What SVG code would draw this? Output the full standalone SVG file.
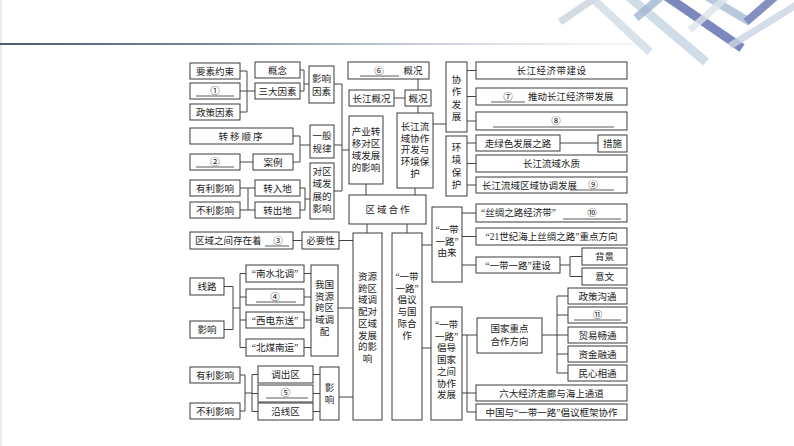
<svg xmlns="http://www.w3.org/2000/svg" width="794" height="446" viewBox="0 0 794 446">
<defs>
<linearGradient id="hl" x1="0" y1="0" x2="1" y2="0">
<stop offset="0" stop-color="#4a5a7a"/>
<stop offset="0.35" stop-color="#7f8ba3"/>
<stop offset="1" stop-color="#e6e9ee" stop-opacity="0.3"/>
</linearGradient>
<style>
.b{fill:#fff;stroke:#3a3a3a;stroke-width:1}
.c{fill:none;stroke:#444;stroke-width:1}
.u{stroke:#333;stroke-width:0.8}
text{font-family:"Liberation Serif","Noto Sans CJK SC",serif;font-size:9.5px;fill:#222;text-anchor:middle}
.l{text-anchor:start}
</style>
</defs>
<rect width="794" height="446" fill="#fff"/>
<g id="header">
<line x1="1" y1="0" x2="1" y2="446" stroke="#d8d8d8" stroke-width="1"/>
<rect x="0" y="43" width="650" height="2" fill="url(#hl)"/>
<g stroke-linecap="butt" fill="none">
<line x1="560" y1="22" x2="598" y2="-4" stroke="#d5dbe3" stroke-width="7"/>
<line x1="590" y1="-4" x2="650" y2="52" stroke="#cfd9e6" stroke-width="8" opacity="0.8"/>
<line x1="628" y1="-4" x2="706" y2="62" stroke="#c5d3e3" stroke-width="9" opacity="0.8"/>
<line x1="636" y1="18" x2="662" y2="-4" stroke="#9fb6cf" stroke-width="8" opacity="0.8"/>
<line x1="666" y1="-4" x2="742" y2="48" stroke="#7b87bd" stroke-width="9"/>
<line x1="706" y1="-4" x2="750" y2="22" stroke="#a7bcd5" stroke-width="8" opacity="0.8"/>
<line x1="746" y1="22" x2="776" y2="-4" stroke="#8490c2" stroke-width="8"/>
<line x1="730" y1="46" x2="798" y2="4" stroke="#c9d5e4" stroke-width="7" opacity="0.8"/>
<line x1="690" y1="30" x2="728" y2="-4" stroke="#dde4ec" stroke-width="7" opacity="0.8"/>
</g>
</g>
<g id="connectors" class="c">
<path d="M240 71H247M240 91H255M240 112H247M247 71V112"/>
<path d="M300 70H304M300 91H304M304 70V91M304 84H309"/>
<path d="M293 136H300M293 162H300M300 136V162M300 145H310"/>
<path d="M240 162H253"/>
<path d="M240 188H255M240 210H255M248 188V210"/>
<path d="M300 188H305M300 210H305M305 188V210M305 199H310"/>
<path d="M334 84H342M334 145H342M334 191H342M342 84V191M342 150H349"/>
<path d="M418 79V90M418 106V113M394 98H405"/>
<path d="M433 124H446"/>
<path d="M467 70.5H476M467 96.5H476M467 121H476M467 143H476M467 163.5H476M467 185H476M560 143H598"/>
<path d="M366 184V195M415 188V195M367 224V233M407 224V233"/>
<path d="M422 245H432M422 348H431"/>
<path d="M462 213H476M462 236.5H476M462 265H476M560 265H570M570 256.5V276.5M570 256.5H582M570 276.5H582"/>
<path d="M462 335H477M542 335H557M557 296V373M557 296H568M557 315H568M557 335H568M557 354H568M557 373H568"/>
<path d="M462 393H467M467 335V412M467 393H476M467 412H476"/>
<path d="M293 240.5H302M339 240.5H353"/>
<path d="M224 286.5H233M224 329.5H233M233 286.5V329.5M233 308H240M240 273.5V347.5M240 273.5H246M240 297H246M240 320H246M240 347.5H246"/>
<path d="M304 273.5H311M304 297H311M304 320H311M304 347.5H311M338 308H353"/>
<path d="M240 375H245M240 411H245M245 375V411M245 393H252M252 374.5V411.5M252 374.5H258M252 393.5H258M252 411.5H258"/>
<path d="M313 374.5H320M313 393.5H320M313 411.5H320M339 397H353"/>
</g>
<g id="n_ysys"><rect class="b" x="190" y="63" width="50" height="16"/><text x="215" y="74.5">要素约束</text></g>
<g id="n_1"><rect class="b" x="190" y="83" width="50" height="16"/><text x="215" y="94">①</text><line class="u" x1="196" y1="96" x2="234" y2="96"/></g>
<g id="n_zcys"><rect class="b" x="190" y="104" width="50" height="16"/><text x="215" y="115.5">政策因素</text></g>
<g id="n_gn"><rect class="b" x="255" y="62" width="45" height="16"/><text x="277.5" y="73.5">概念</text></g>
<g id="n_sdys"><rect class="b" x="255" y="83" width="45" height="16"/><text x="277.5" y="94.5">三大因素</text></g>
<g id="n_yxys"><rect class="b" x="309" y="66" width="25" height="37"/><text x="321.5" y="81.5">影响<tspan x="321.5" dy="13">因素</tspan></text></g>
<g id="n_zysx"><rect class="b" x="190" y="128" width="103" height="16"/><text x="241.5" y="139.5" letter-spacing="2">转移顺序</text></g>
<g id="n_2"><rect class="b" x="190" y="154" width="50" height="16"/><text x="215" y="165">②</text><line class="u" x1="196" y1="167" x2="234" y2="167"/></g>
<g id="n_al"><rect class="b" x="253" y="154" width="40" height="16"/><text x="273" y="165.5">案例</text></g>
<g id="n_ybgl"><rect class="b" x="310" y="125" width="24" height="33"/><text x="322" y="138.5">一般<tspan x="322" dy="13">规律</tspan></text></g>
<g id="n_dqy"><rect class="b" x="310" y="163" width="24" height="56"/><text x="322" y="174.5">对区<tspan x="322" dy="12.5">域发</tspan><tspan x="322" dy="12.5">展的</tspan><tspan x="322" dy="12.5">影响</tspan></text></g>
<g id="n_ylyx1"><rect class="b" x="190" y="180" width="50" height="16"/><text x="215" y="191.5">有利影响</text></g>
<g id="n_blyx1"><rect class="b" x="190" y="202" width="50" height="16"/><text x="215" y="213.5">不利影响</text></g>
<g id="n_zrd"><rect class="b" x="255" y="180" width="45" height="16"/><text x="277.5" y="191.5">转入地</text></g>
<g id="n_zcd"><rect class="b" x="255" y="202" width="45" height="16"/><text x="277.5" y="213.5">转出地</text></g>
<g id="n_cyzy"><rect class="b" x="349" y="116" width="34" height="68"/><text x="366" y="135">产业转<tspan x="366" dy="12">移对区</tspan><tspan x="366" dy="12">域发展</tspan><tspan x="366" dy="12">的影响</tspan></text></g>
<g id="n_6"><rect class="b" x="348" y="62" width="81" height="17"/><text x="379" y="74">⑥</text><line class="u" x1="360" y1="76" x2="399" y2="76"/><text x="413" y="74">概况</text></g>
<g id="n_cjgk"><rect class="b" x="349" y="90" width="45" height="16"/><text x="371.5" y="101.5">长江概况</text></g>
<g id="n_gk"><rect class="b" x="405" y="90" width="26" height="16"/><text x="418" y="101.5">概况</text></g>
<g id="n_cjly"><rect class="b" x="397" y="113" width="36" height="75"/><text x="415" y="130">长江流<tspan x="415" dy="11.7">域协作</tspan><tspan x="415" dy="11.7">开发与</tspan><tspan x="415" dy="11.7">环境保</tspan><tspan x="415" dy="11.7">护</tspan></text></g>
<g id="n_qyhz"><rect class="b" x="349" y="195" width="77" height="29"/><text x="388.5" y="213" letter-spacing="2">区域合作</text></g>
<g id="n_xzfz"><rect class="b" x="446" y="62" width="21" height="70"/><text x="456.5" y="82.5">协<tspan x="456.5" dy="12.5">作</tspan><tspan x="456.5" dy="12.5">发</tspan><tspan x="456.5" dy="12.5">展</tspan></text></g>
<g id="n_hjbh"><rect class="b" x="446" y="136" width="21" height="60"/><text x="456.5" y="150.5">环<tspan x="456.5" dy="12.5">境</tspan><tspan x="456.5" dy="12.5">保</tspan><tspan x="456.5" dy="12.5">护</tspan></text></g>
<g id="n_cjjs"><rect class="b" x="476" y="62" width="151" height="17"/><text x="551.5" y="74" letter-spacing="0.5">长江经济带建设</text></g>
<g id="n_7"><rect class="b" x="476" y="88" width="151" height="17"/><text x="508" y="100">⑦</text><line class="u" x1="491" y1="102" x2="525" y2="102"/><text class="l" x="528" y="100">推动长江经济带发展</text></g>
<g id="n_8"><rect class="b" x="476" y="112" width="151" height="18"/><text x="556" y="123.5">⑧</text><line class="u" x1="493" y1="127" x2="614" y2="127"/></g>
<g id="n_zls"><rect class="b" x="476" y="135" width="84" height="16"/><text x="518" y="146.5">走绿色发展之路</text></g>
<g id="n_cs"><rect class="b" x="598" y="135" width="29" height="17"/><text x="612.5" y="147">措施</text></g>
<g id="n_cjsz"><rect class="b" x="476" y="155" width="151" height="17"/><text x="551.5" y="167">长江流域水质</text></g>
<g id="n_9"><rect class="b" x="476" y="177" width="151" height="16"/><text class="l" x="482" y="188.5">长江流域区域协调发展</text><line class="u" x1="570" y1="190" x2="614" y2="190"/><text x="593" y="188">⑨</text></g>
<g id="n_zyky"><rect class="b" x="353" y="233" width="29" height="187"/><text x="367.5" y="280">资源<tspan x="367.5" dy="11.7">跨区</tspan><tspan x="367.5" dy="11.7">域调</tspan><tspan x="367.5" dy="11.7">配对</tspan><tspan x="367.5" dy="11.7">区域</tspan><tspan x="367.5" dy="11.7">发展</tspan><tspan x="367.5" dy="11.7">的影</tspan><tspan x="367.5" dy="11.7">响</tspan></text></g>
<g id="n_cygj"><rect class="b" x="392" y="233" width="30" height="187"/><text x="407" y="280">“一带<tspan x="407" dy="11.7">一路”</tspan><tspan x="407" dy="11.7">倡议</tspan><tspan x="407" dy="11.7">与国</tspan><tspan x="407" dy="11.7">际合</tspan><tspan x="407" dy="11.7">作</tspan></text></g>
<g id="n_yl"><rect class="b" x="432" y="207" width="30" height="75"/><text x="447" y="233">“一带<tspan x="447" dy="11.7">一路”</tspan><tspan x="447" dy="11.7">由来</tspan></text></g>
<g id="n_10"><rect class="b" x="476" y="204" width="151" height="18"/><text class="l" x="481" y="216">“丝绸之路经济带”</text><line class="u" x1="563" y1="219" x2="621" y2="219"/><text x="592" y="216">⑩</text></g>
<g id="n_21sj"><rect class="b" x="476" y="228" width="151" height="17"/><text x="551.5" y="240">“21世纪海上丝绸之路”重点方向</text></g>
<g id="n_ydyljs"><rect class="b" x="476" y="257" width="84" height="16"/><text x="518" y="268.5">“一带一路”建设</text></g>
<g id="n_bj"><rect class="b" x="582" y="248" width="45" height="17"/><text x="604.5" y="260">背景</text></g>
<g id="n_yw"><rect class="b" x="582" y="268" width="45" height="17"/><text x="604.5" y="280">意文</text></g>
<g id="n_cdgj"><rect class="b" x="431" y="307" width="31" height="113"/><text x="446.5" y="328">“一带<tspan x="446.5" dy="11.7">一路”</tspan><tspan x="446.5" dy="11.7">倡导</tspan><tspan x="446.5" dy="11.7">国家</tspan><tspan x="446.5" dy="11.7">之间</tspan><tspan x="446.5" dy="11.7">协作</tspan><tspan x="446.5" dy="11.7">发展</tspan></text></g>
<g id="n_gjzd"><rect class="b" x="477" y="318" width="65" height="35"/><text x="509.5" y="332">国家重点<tspan x="509.5" dy="13">合作方向</tspan></text></g>
<g id="n_zcgt"><rect class="b" x="568" y="288" width="59" height="16"/><text x="597.5" y="299.5">政策沟通</text></g>
<g id="n_11"><rect class="b" x="568" y="307" width="59" height="16"/><text x="597.5" y="318">⑪</text><line class="u" x1="574" y1="320" x2="621" y2="320"/></g>
<g id="n_mycd"><rect class="b" x="568" y="327" width="59" height="16"/><text x="597.5" y="338.5">贸易畅通</text></g>
<g id="n_zjrt"><rect class="b" x="568" y="346" width="59" height="16"/><text x="597.5" y="357.5">资金融通</text></g>
<g id="n_mxxt"><rect class="b" x="568" y="365" width="59" height="16"/><text x="597.5" y="376.5">民心相通</text></g>
<g id="n_ldjj"><rect class="b" x="476" y="385" width="151" height="16"/><text x="551.5" y="396.5">六大经济走廊与海上通道</text></g>
<g id="n_zgy"><rect class="b" x="476" y="404" width="151" height="16"/><text x="551.5" y="415.5">中国与“一带一路”倡议框架协作</text></g>
<g id="n_3"><rect class="b" x="190" y="232" width="103" height="17"/><text class="l" x="195" y="244">区域之间存在着</text><line class="u" x1="265" y1="246" x2="289" y2="246"/><text x="278" y="243.5">③</text></g>
<g id="n_byx"><rect class="b" x="302" y="232" width="37" height="17"/><text x="320.5" y="244">必要性</text></g>
<g id="n_xl"><rect class="b" x="190" y="278" width="34" height="17"/><text x="207" y="290">线路</text></g>
<g id="n_yx2"><rect class="b" x="190" y="321" width="34" height="17"/><text x="207" y="333">影响</text></g>
<g id="n_nsbd"><rect class="b" x="246" y="265" width="58" height="17"/><text x="275" y="277">“南水北调”</text></g>
<g id="n_4"><rect class="b" x="246" y="289" width="58" height="16"/><text x="275" y="300">④</text><line class="u" x1="256" y1="302" x2="296" y2="302"/></g>
<g id="n_xddx"><rect class="b" x="246" y="312" width="58" height="16"/><text x="275" y="323.5">“西电东送”</text></g>
<g id="n_bmny"><rect class="b" x="246" y="339" width="58" height="17"/><text x="275" y="351">“北煤南运”</text></g>
<g id="n_wgzy"><rect class="b" x="311" y="265" width="27" height="91"/><text x="324.5" y="288">我国<tspan x="324.5" dy="11.7">资源</tspan><tspan x="324.5" dy="11.7">跨区</tspan><tspan x="324.5" dy="11.7">域调</tspan><tspan x="324.5" dy="11.7">配</tspan></text></g>
<g id="n_ylyx2"><rect class="b" x="190" y="367" width="50" height="16"/><text x="215" y="378.5">有利影响</text></g>
<g id="n_blyx2"><rect class="b" x="190" y="403" width="50" height="16"/><text x="215" y="414.5">不利影响</text></g>
<g id="n_dcq"><rect class="b" x="258" y="366" width="55" height="17"/><text x="285.5" y="378">调出区</text></g>
<g id="n_5"><rect class="b" x="258" y="385" width="55" height="17"/><text x="285.5" y="396">⑤</text><line class="u" x1="266" y1="398" x2="308" y2="398"/></g>
<g id="n_yxq"><rect class="b" x="258" y="403" width="55" height="17"/><text x="285.5" y="415">沿线区</text></g>
<g id="n_yx3"><rect class="b" x="320" y="367" width="19" height="53"/><text x="329.5" y="390.5">影<tspan x="329.5" dy="12.5">响</tspan></text></g>
</svg>
